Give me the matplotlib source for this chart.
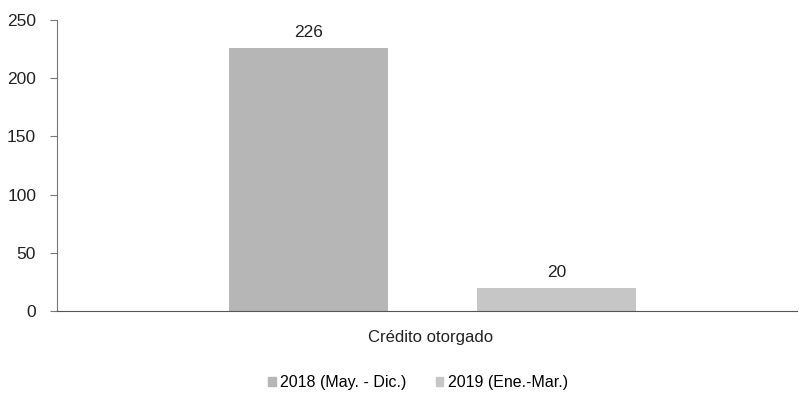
import matplotlib
matplotlib.use("Agg")
import matplotlib.pyplot as plt
from matplotlib.patches import Patch

categories = ["Crédito otorgado"]
series_names = ["2018 (May. - Dic.)", "2019 (Ene.-Mar.)"]
values_2018 = [226]
values_2019 = [20]
y_ticks = [0, 50, 100, 150, 200, 250]

plt.rcParams['font.family'] = ['Liberation Sans Narrow', 'Liberation Sans', 'DejaVu Sans']

fig = plt.figure(figsize=(7.99, 4.0), dpi=100)
ax = fig.add_axes([57/799, 1 - 311/400, 740/799, 291/400])

colors = ["#b6b6b6", "#c6c6c6"]
width = 0.43
offsets = [-0.33, 0.34]
for vals, off, col, name in zip([values_2018, values_2019], offsets, colors, series_names):
    xs = [i + off for i in range(len(categories))]
    bars = ax.bar(xs, vals, width=width, color=col, label=name)
    for b, v in zip(bars, vals):
        ax.text(b.get_x() + b.get_width()/2, v + 7, f"{v}", ha='center', va='bottom', fontsize=12.5, color='#222222')

ax.set_xlim(-1.01, 0.99)
ax.set_ylim(0, 250)
ax.set_yticks(y_ticks)
ax.set_xticks([0])
ax.set_xticklabels(categories, fontsize=12, color='#222222')
ax.tick_params(axis='x', length=0, pad=14)
ax.tick_params(axis='y', length=5, direction='out', labelsize=12.5, colors='#222222', pad=10, color='#777777')
for s in ['top', 'right']:
    ax.spines[s].set_visible(False)
ax.spines['left'].set_color('#777777')
ax.spines['bottom'].set_color('#555555')

handles = [Patch(color=c, label=n) for c, n in zip(colors, series_names)]
fig.legend(handles=handles, loc='center', bbox_to_anchor=(418/799, 1 - 383/400), ncol=2,
           frameon=False, fontsize=11.5, handlelength=0.5, handleheight=0.5, handletextpad=0.3,
           columnspacing=1.8)

fig.savefig("out.png", dpi=100)
